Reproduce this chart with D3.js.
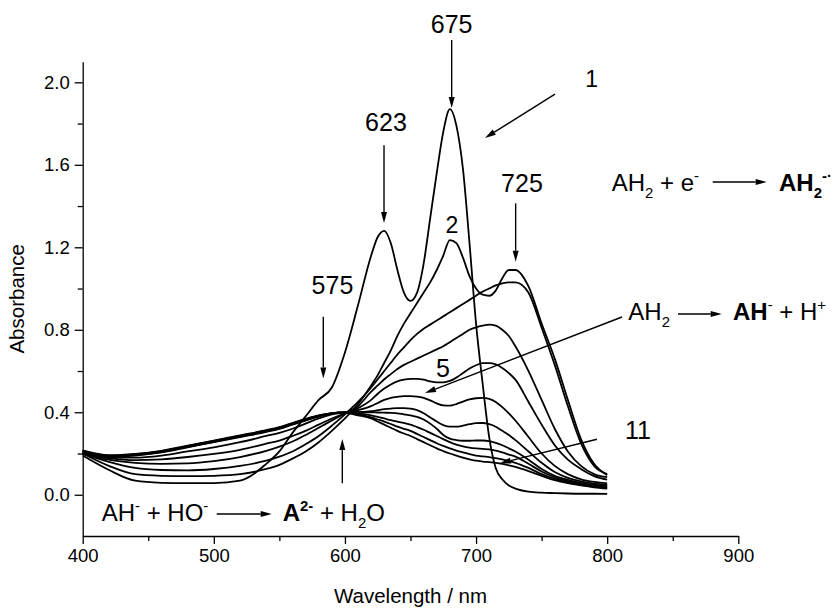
<!DOCTYPE html>
<html>
<head>
<meta charset="utf-8">
<script src="https://cdn.jsdelivr.net/npm/d3@7"></script>
<style>
  body { margin: 0; background: #fff; }
  svg { font-family: "Liberation Sans", Arial, Helvetica, sans-serif; }
</style>
</head>
<body>
<svg id="chart" width="832" height="608"></svg>
<script>
// wavelength grid (nm) shared by all spectra
const wavelengths = [400,420,440,460,480,500,520,540,550,
  560,570,580,590,600,610,620,
  625,630,635,640,645,650,655,660,665,670,675,680,685,690,695,700,705,710,715,720,725,730,
  740,750,760,770,780,790,800];

// absorbance of spectra 1..11
const spectrum1 = [0.19,0.12,0.068,0.058,0.056,0.056,0.068,0.15,0.21,
  0.30,0.38,0.46,0.52,0.69,0.92,1.16,
  1.25,1.28,1.22,1.09,0.98,0.94,0.98,1.12,1.34,1.56,1.76,1.87,1.79,1.58,1.22,0.83,0.54,0.28,0.13,0.075,0.045,0.03,
  0.015,0.01,0.008,0.006,0.005,0.005,0.004];
const spectrum2 = [0.20,0.14,0.10,0.092,0.09,0.092,0.10,0.125,0.145,
  0.175,0.21,0.255,0.31,0.37,0.44,0.53,
  0.58,0.64,0.70,0.77,0.83,0.88,0.93,0.98,1.03,1.09,1.16,1.235,1.22,1.15,1.06,1.00,0.97,0.965,0.99,1.05,1.09,1.09,
  1.01,0.83,0.66,0.46,0.27,0.15,0.095];
const spectrum3 = [0.20,0.16,0.13,0.12,0.118,0.125,0.14,0.165,0.185,
  0.21,0.245,0.285,0.335,0.39,0.45,0.52,
  0.56,0.60,0.64,0.68,0.715,0.75,0.78,0.805,0.825,0.845,0.865,0.885,0.905,0.925,0.945,0.965,0.985,1.00,1.015,1.025,1.03,1.03,
  0.98,0.81,0.63,0.43,0.25,0.14,0.10];
const spectrum4 = [0.20,0.17,0.155,0.15,0.152,0.163,0.183,0.213,0.233,
  0.258,0.29,0.325,0.36,0.395,0.43,0.50,
  0.53,0.56,0.585,0.61,0.63,0.645,0.66,0.675,0.69,0.705,0.72,0.74,0.76,0.78,0.80,0.812,0.82,0.825,0.82,0.80,0.77,0.72,
  0.60,0.46,0.32,0.21,0.14,0.10,0.085];
const spectrum5 = [0.20,0.178,0.168,0.172,0.183,0.198,0.218,0.248,0.263,
  0.285,0.31,0.34,0.37,0.395,0.42,0.46,
  0.49,0.515,0.535,0.55,0.558,0.562,0.562,0.558,0.55,0.545,0.545,0.552,0.568,0.59,0.612,0.628,0.638,0.638,0.632,0.615,0.59,0.558,
  0.45,0.34,0.24,0.17,0.125,0.09,0.073];
const spectrum6 = [0.205,0.18,0.18,0.19,0.21,0.23,0.255,0.285,0.30,
  0.32,0.345,0.37,0.39,0.40,0.41,0.43,
  0.445,0.46,0.47,0.475,0.478,0.478,0.476,0.47,0.458,0.443,0.433,0.432,0.44,0.452,0.462,0.468,0.47,0.465,0.45,0.425,0.395,0.36,
  0.28,0.20,0.14,0.10,0.075,0.062,0.055];
const spectrum7 = [0.21,0.185,0.19,0.205,0.23,0.255,0.28,0.305,0.32,
  0.34,0.36,0.38,0.395,0.40,0.40,0.405,
  0.41,0.415,0.418,0.42,0.42,0.418,0.41,0.395,0.375,0.355,0.338,0.33,0.33,0.335,0.342,0.347,0.348,0.342,0.33,0.31,0.29,0.265,
  0.21,0.155,0.11,0.082,0.065,0.054,0.048];
const spectrum8 = [0.21,0.187,0.192,0.207,0.232,0.257,0.282,0.307,0.322,
  0.342,0.362,0.38,0.395,0.40,0.40,0.40,
  0.399,0.398,0.397,0.395,0.39,0.385,0.378,0.365,0.345,0.32,0.29,0.272,0.265,0.262,0.262,0.263,0.263,0.26,0.252,0.24,0.225,0.21,
  0.17,0.125,0.092,0.072,0.058,0.048,0.042];
const spectrum9 = [0.212,0.188,0.194,0.209,0.234,0.259,0.284,0.309,0.324,
  0.344,0.364,0.382,0.395,0.398,0.395,0.385,
  0.378,0.37,0.362,0.355,0.348,0.34,0.328,0.315,0.30,0.285,0.27,0.255,0.243,0.235,0.229,0.225,0.222,0.22,0.214,0.205,0.195,0.185,
  0.15,0.113,0.085,0.066,0.053,0.044,0.037];
const spectrum10 = [0.213,0.19,0.196,0.211,0.236,0.261,0.286,0.311,0.326,
  0.346,0.366,0.383,0.395,0.397,0.39,0.375,
  0.365,0.355,0.343,0.33,0.32,0.31,0.295,0.28,0.265,0.25,0.237,0.225,0.214,0.205,0.197,0.19,0.186,0.183,0.178,0.172,0.164,0.155,
  0.13,0.10,0.077,0.06,0.048,0.039,0.032];
const spectrum11 = [0.215,0.192,0.198,0.213,0.238,0.263,0.288,0.313,0.328,
  0.348,0.368,0.385,0.395,0.396,0.385,0.37,
  0.355,0.34,0.325,0.31,0.297,0.285,0.27,0.255,0.24,0.225,0.212,0.20,0.19,0.18,0.172,0.165,0.161,0.158,0.155,0.15,0.143,0.135,
  0.115,0.092,0.071,0.056,0.045,0.036,0.03];

const spectra = [spectrum1,spectrum2,spectrum3,spectrum4,spectrum5,spectrum6,
  spectrum7,spectrum8,spectrum9,spectrum10,spectrum11];

const xTicks = [400,500,600,700,800,900];
const xMinor = [450,550,650,750,850];
const yTicks = [0.0,0.4,0.8,1.2,1.6,2.0];
const yMinor = [0.2,0.6,1.0,1.4,1.8];

const svg = d3.select("#chart");

const x = d3.scaleLinear().domain([400, 900]).range([82.7, 738.3]);
const y = d3.scaleLinear().domain([-0.2, 2.1]).range([536, 61.7]);

// axes
function styleAxis(g) {
  g.selectAll("path, line").attr("stroke", "#000").attr("stroke-width", 1.3);
  g.selectAll("text").attr("fill", "#000")
    .attr("font-family", '"Liberation Sans", Arial, sans-serif').attr("font-size", 18.5);
}

svg.append("g")
  .attr("transform", `translate(0,${y(-0.2)})`)
  .call(d3.axisBottom(x).tickValues(xTicks).tickFormat(d3.format("d"))
    .tickSize(8).tickPadding(5).tickSizeOuter(0))
  .call(styleAxis);

svg.append("g")
  .attr("transform", `translate(0,${y(-0.2)})`)
  .call(d3.axisBottom(x).tickValues(xMinor).tickFormat("").tickSize(5))
  .call(g => g.select(".domain").remove())
  .call(styleAxis);

svg.append("g")
  .attr("transform", `translate(${x(400)},0)`)
  .call(d3.axisLeft(y).tickValues(yTicks).tickFormat(d3.format(".1f"))
    .tickSize(8).tickPadding(5).tickSizeOuter(0))
  .call(styleAxis);

svg.append("g")
  .attr("transform", `translate(${x(400)},0)`)
  .call(d3.axisLeft(y).tickValues(yMinor).tickFormat("").tickSize(5))
  .call(g => g.select(".domain").remove())
  .call(styleAxis);

svg.append("text")
  .attr("x", (x(400) + x(900)) / 2).attr("y", 603)
  .attr("text-anchor", "middle").attr("font-size", 20.5)
  .text("Wavelength / nm");

svg.append("text")
  .attr("transform", `translate(24,${(y(-0.2) + y(2.1)) / 2}) rotate(-90)`)
  .attr("text-anchor", "middle").attr("font-size", 20.5)
  .text("Absorbance");

// spectra
const line = d3.line()
  .x((d, i) => x(wavelengths[i]))
  .y(d => y(d))
  .curve(d3.curveMonotoneX);

svg.append("g")
  .selectAll("path")
  .data(spectra)
  .join("path")
  .attr("d", line)
  .attr("fill", "none")
  .attr("stroke", "#000")
  .attr("stroke-width", 1.8)
  .attr("stroke-linejoin", "round");

// annotations
const ann = svg.append("g");

function arrow(x1, y1, x2, y2, head) {
  const a = Math.atan2(y2 - y1, x2 - x1);
  const len = head ? 11 : 0, w = 3;
  const bx = x2 - len * Math.cos(a), by = y2 - len * Math.sin(a);
  ann.append("line")
    .attr("x1", x1).attr("y1", y1).attr("x2", bx).attr("y2", by)
    .attr("stroke", "#000").attr("stroke-width", 1.4);
  if (head) {
    const px = -Math.sin(a) * w, py = Math.cos(a) * w;
    ann.append("path")
      .attr("d", `M${x2},${y2}L${bx + px},${by + py}L${bx - px},${by - py}Z`)
      .attr("fill", "#000");
  }
}

function label(t, cx, base, size) {
  ann.append("text").attr("x", cx).attr("y", base)
    .attr("text-anchor", "middle").attr("font-size", size || 25).text(t);
}

// peak markers
label("675", x(681.4), y(2.239));
arrow(x(681.4), y(2.205), x(681.4), y(1.875), true);
label("623", x(631.3), y(1.765));
arrow(x(629.8), y(1.695), x(629.8), y(1.318), true);
label("725", x(735.0), y(1.467));
arrow(x(730.2), y(1.413), x(730.2), y(1.130), true);
label("575", x(590.5), y(0.972));
arrow(x(583.5), y(0.863), x(583.5), y(0.564), true);
arrow(x(598.0), y(0.056), x(598.0), y(0.27), true);

// spectrum numbers
label("1", x(788.2), y(1.977), 23);
arrow(x(760.2), y(1.943), x(706.8), y(1.73), true);
label("2", x(681.6), y(1.269), 23);
label("5", x(674.8), y(0.571), 25);
arrow(x(811.3), y(0.862), x(661.1), y(0.493), true);
label("11", x(823.5), y(0.270), 25);
arrow(x(792.2), y(0.269), x(718.2), y(0.153), true);

// reaction equations
function chem(x0, base, parts, size) {
  const t = ann.append("text").attr("x", x0).attr("y", base).attr("font-size", size);
  let shift = 0;
  parts.forEach(([s, mode, bold]) => {
    const target = mode === "sup" ? -0.42 * size : mode === "sub" ? 0.3 * size : 0;
    const sp = t.append("tspan").attr("dy", target - shift).text(s);
    shift = target;
    if (mode) sp.attr("font-size", size * 0.62);
    if (bold) sp.attr("font-weight", "bold");
  });
}

chem(101.7, 520.7, [["AH"], ["-", "sup"], [" + HO"], ["-", "sup"]], 24);
arrow(216.7, 514, 271.7, 514, true);
chem(282.7, 520.7, [["A", null, true], ["2-", "sup", true], [" + H"], ["2", "sub"], ["O"]], 24);

chem(611.7, 190.7, [["AH"], ["2", "sub"], [" + e"], ["-", "sup"]], 24);
arrow(712.7, 182, 766.7, 182, true);
chem(779, 190.7, [["AH", null, true], ["2", "sub", true], ["-\u00b7", "sup", true]], 24);

chem(628.3, 320, [["AH"], ["2", "sub"]], 24);
arrow(678, 314, 721.7, 314, true);
chem(733, 320, [["AH", null, true], ["-", "sup"], [" + H"], ["+", "sup"]], 24);
</script>
</body>
</html>
